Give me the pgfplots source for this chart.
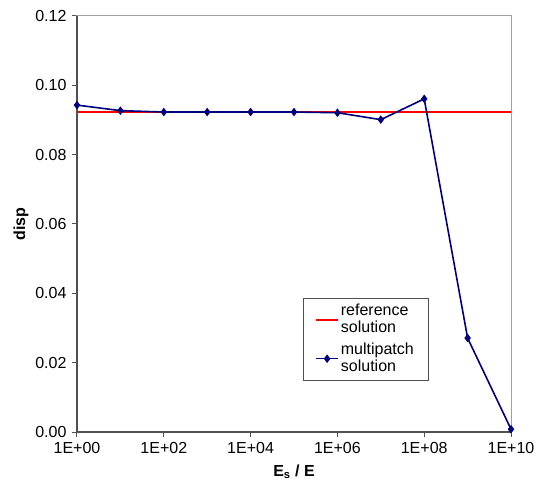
\documentclass[border=0pt]{standalone}
\usepackage{fontspec}
\setmainfont{Liberation Sans}
\usepackage{pgfplots}
\pgfplotsset{compat=1.18}
\definecolor{navy}{RGB}{0,0,128}
\definecolor{frameDark}{RGB}{80,80,80}
\definecolor{frameLight}{RGB}{160,160,160}
\begin{document}
\fontsize{16bp}{19bp}\selectfont
\begin{tikzpicture}
\path[use as bounding box] (-77bp,-62bp) rectangle (459bp,432bp);
\begin{axis}[
  scale only axis, width=434bp, height=416bp,
  xmode=log, log basis x=10,
  xmin=1, xmax=1e10, ymin=0, ymax=0.12,
  xtick={1,1e2,1e4,1e6,1e8,1e10},
  xticklabels={1E+00,1E+02,1E+04,1E+06,1E+08,1E+10},
  xminorticks=false,
  ytick={0,0.02,0.04,0.06,0.08,0.1,0.12},
  yticklabels={0.00,0.02,0.04,0.06,0.08,0.10,0.12},
  tick align=outside, tick pos=left,
  major tick length=5bp,
  tick style={frameDark, line width=1bp},
  axis line style={frameLight, line width=1bp},
  ticklabel style={font=\fontsize{16bp}{19bp}\selectfont},
  xlabel={\textbf{E\textsubscript{s} / E}},
  ylabel={\textbf{disp}},
  ylabel style={yshift=-4bp},
  label style={font=\fontsize{16bp}{19bp}\selectfont},
  clip=false,
  legend image code/.code={\draw[mark repeat=2, mark phase=2]
    plot coordinates {(0bp,0bp) (11bp,0bp) (22bp,0bp)};},
  legend style={at={(rel axis cs:0.521,0.322)}, anchor=north west,
    draw=frameDark, font=\fontsize{16bp}{17bp}\selectfont,
    cells={anchor=west, align=left}, inner xsep=12bp, inner ysep=4bp,
    row sep=4bp},
]
\addplot[red, line width=1.6bp] coordinates {(1,0.0923) (1e10,0.0923)};
\addlegendentry{reference\\solution}
\addplot[navy, line width=1.6bp, mark=diamond*, mark size=3bp, mark options={fill=navy, solid}]
  coordinates {
  (1,0.0943) (1e1,0.0927) (1e2,0.0923) (1e3,0.0923) (1e4,0.0923)
  (1e5,0.0923) (1e6,0.0921) (1e7,0.0901) (1e8,0.0961) (1e9,0.0271)
  (1e10,0.0008)
  };
\addlegendentry{multipatch\\solution}
\draw[frameDark, line width=1.2bp] (rel axis cs:0,1) -- (rel axis cs:0,0) -- (rel axis cs:1,0);
\end{axis}
\end{tikzpicture}
\end{document}
